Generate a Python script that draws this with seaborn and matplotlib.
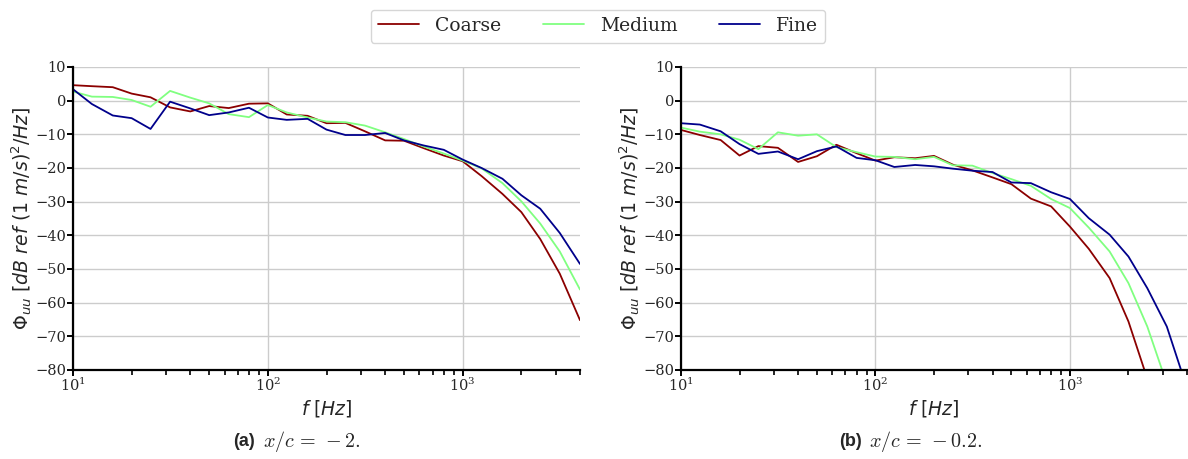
import numpy as np
import pandas as pd
import matplotlib
matplotlib.use("Agg")
import matplotlib.pyplot as plt
import seaborn as sns

# third-octave band centre frequencies [Hz]
freq = [10, 12.5, 16, 20, 25, 31.5, 40, 50, 63, 80, 100, 125, 160, 200, 250,
        315, 400, 500, 630, 800, 1000, 1250, 1600, 2000, 2500, 3150, 4000]

# (a) x/c = -2
coarse_a = [4.6, 4.3, 4.0, 2.1, 1.0, -2.0, -3.2, -1.6, -2.2, -0.9, -0.8, -4.1, -4.5,
            -6.7, -6.6, -9.1, -11.8, -11.9, -14.1, -16.3, -18.0, -22.4, -27.7, -33.1,
            -41.1, -51.4, -65.2]
medium_a = [2.7, 1.2, 1.1, 0.2, -1.8, 2.9, 0.9, -0.8, -4.0, -4.9, -1.3, -3.5, -5.0,
            -6.2, -6.4, -7.4, -9.4, -11.4, -13.6, -15.7, -17.8, -20.1, -24.5, -29.9,
            -36.5, -44.8, -56.1]
fine_a = [3.4, -1.0, -4.4, -5.2, -8.4, -0.3, -2.3, -4.3, -3.5, -2.1, -5.0, -5.7, -5.4,
          -8.6, -10.2, -10.2, -9.6, -11.8, -13.3, -14.6, -17.5, -20.0, -23.2, -28.1,
          -32.1, -39.3, -48.5]

# (b) x/c = -0.2
coarse_b = [-8.7, -10.2, -11.7, -16.3, -13.5, -14.0, -18.2, -16.5, -13.1, -15.6, -17.8,
            -16.8, -17.1, -16.4, -19.0, -20.7, -22.8, -24.8, -29.1, -31.4, -37.4, -44.0,
            -52.7, -65.6, -82.6, -100.0, -120.0]
medium_b = [-8.0, -9.2, -10.0, -11.6, -14.4, -9.4, -10.4, -10.0, -13.8, -15.3, -16.6,
            -16.7, -17.4, -16.7, -19.2, -19.3, -21.5, -23.3, -25.3, -29.2, -31.9, -37.7,
            -44.8, -54.2, -67.1, -84.1, -100.0]
fine_b = [-6.7, -7.1, -9.1, -12.9, -15.8, -15.1, -17.4, -15.0, -13.6, -17.0, -17.7,
          -19.7, -19.1, -19.5, -20.2, -20.8, -21.2, -24.3, -24.5, -27.2, -29.2, -34.9,
          -39.8, -46.3, -55.7, -67.1, -85.4]

meshes = ["Coarse", "Medium", "Fine"]
colors = {"Coarse": "#8b0000", "Medium": "#80ff80", "Fine": "#00008b"}
captions = [(r"(a)", r"$x/c\,=\,-2.$"), (r"(b)", r"$x/c\,=\,-0.2.$")]


def long_df(c, m, f):
    rows = []
    for name, vals in zip(meshes, (c, m, f)):
        for fr, v in zip(freq, vals):
            rows.append({"f": fr, "phi": v, "mesh": name})
    return pd.DataFrame(rows)


sns.set_theme(style="whitegrid")
plt.rcParams["font.family"] = ["DejaVu Serif", "DejaVu Sans"]
plt.rcParams["mathtext.fontset"] = "dejavusans"

fig = plt.figure(figsize=(11.88, 4.59), dpi=100)
W, H = 1188, 459
axes_px = [(73, 580), (681, 1187)]
top_px, bot_px = 67, 370

datasets = [long_df(coarse_a, medium_a, fine_a), long_df(coarse_b, medium_b, fine_b)]

for i, ((x0, x1), df) in enumerate(zip(axes_px, datasets)):
    ax = fig.add_axes([x0 / W, 1 - bot_px / H, (x1 - x0) / W, (bot_px - top_px) / H])
    sns.lineplot(data=df, x="f", y="phi", hue="mesh", palette=colors,
                 hue_order=meshes, ax=ax, linewidth=1.3, legend=(i == 0))
    ax.set_xscale("log")
    ax.set_xlim(10, 4000)
    ax.set_ylim(-80, 10)
    ax.set_yticks(np.arange(-80, 11, 10))
    ax.grid(True, which="major", color="#cccccc", linewidth=1.0)
    ax.grid(False, which="minor")
    for s in ("top", "right"):
        ax.spines[s].set_visible(False)
    for s in ("left", "bottom"):
        ax.spines[s].set_color("black")
        ax.spines[s].set_linewidth(1.6)
    ax.tick_params(axis="both", which="major", direction="out", length=4, width=1.4,
                   color="black", labelsize=10.5, pad=1, bottom=True, left=True)
    ax.tick_params(axis="x", which="minor", direction="out", length=3.5, width=1.2,
                   color="black", bottom=True)
    ax.set_xlabel(r"$f\ [Hz]$", fontsize=13.5, labelpad=3)
    ax.set_ylabel(r"$\Phi_{uu}\ [dB\ ref\ (1\ m/s)^2/Hz]$", fontsize=13.6, labelpad=1)
    if i == 0:
        handles, labels = ax.get_legend_handles_labels()
        ax.get_legend().remove()

fig.legend(handles, labels, loc="center", bbox_to_anchor=(598 / W, 1 - 26 / H),
           ncol=3, fontsize=13.5, frameon=True, edgecolor="#cccccc",
           columnspacing=2.2, handlelength=2.2, handletextpad=0.85,
           borderpad=0.4, fancybox=True)

cap_centers = [295, 901]
for (tag, expr), cx in zip(captions, cap_centers):
    fig.text(cx / W - 0.052, 1 - 441 / H, tag, ha="left", va="center",
             fontsize=13, fontweight="bold", family=["Liberation Sans"])
    fig.text(cx / W - 0.052 + 0.025, 1 - 441 / H, expr, ha="left", va="center",
             fontsize=14.5, math_fontfamily="cm")

fig.savefig("out.png", dpi=100)
